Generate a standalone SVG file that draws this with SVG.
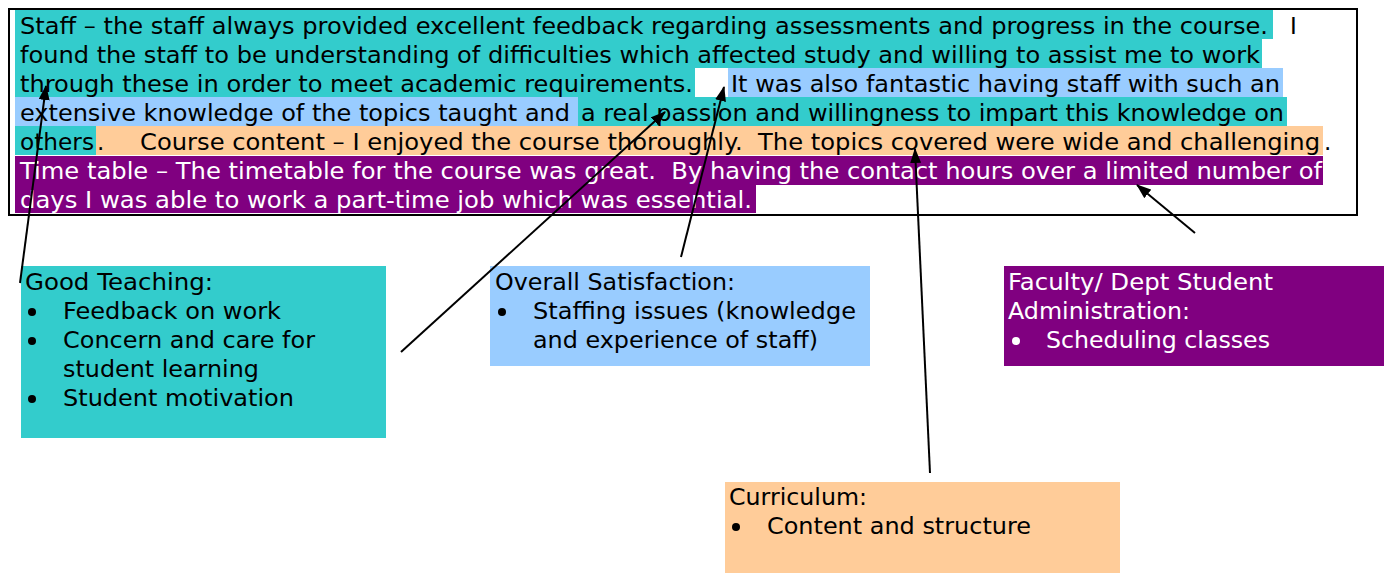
<svg xmlns="http://www.w3.org/2000/svg" width="1392" height="574" viewBox="0 0 1392 574">
  <style>
    text { font-family: "DejaVu Sans", Verdana, sans-serif; font-size: 23px; fill: #000; white-space: pre; }
    .w { fill: #fff; }
    .cy { fill: #33cccc; }
    .bl { fill: #99ccff; }
    .or { fill: #ffcc99; }
    .pu { fill: #800080; }
    .conn line { stroke: #000; stroke-width: 2; marker-end: url(#arrow); }
  </style>
  <defs>
    <marker id="arrow" viewBox="0 0 15 11" refX="14" refY="5.5" markerWidth="15" markerHeight="11" markerUnits="userSpaceOnUse" orient="auto">
      <path d="M0,0 L15,5.5 L0,11 z" fill="#000"/>
    </marker>
  </defs>
  <rect width="1392" height="574" fill="#fff"/>

  <!-- Feedback paragraph with coloured highlights -->
  <g id="paragraph">
    <rect class="cy" x="15" y="10" width="1258" height="29"/>
    <rect class="cy" x="15" y="39" width="1247" height="29"/>
    <rect class="cy" x="15" y="68" width="680" height="29"/>
    <rect class="bl" x="728" y="68" width="555" height="29"/>
    <rect class="bl" x="15" y="97" width="563" height="29"/>
    <rect class="cy" x="578" y="97" width="709" height="29"/>
    <rect class="cy" x="15" y="126" width="81" height="29"/>
    <rect class="or" x="96" y="126" width="1227" height="29"/>
    <rect class="pu" x="15" y="156" width="1308" height="29"/>
    <rect class="pu" x="15" y="185" width="741" height="28"/>
    <rect x="9" y="9" width="1348" height="206" fill="none" stroke="#000" stroke-width="2"/>

    <text x="20" y="34" textLength="1248" lengthAdjust="spacingAndGlyphs">Staff – the staff always provided excellent feedback regarding assessments and progress in the course.</text>
    <text x="1290" y="34">I</text>
    <text x="20" y="63" textLength="1240" lengthAdjust="spacingAndGlyphs">found the staff to be understanding of difficulties which affected study and willing to assist me to work</text>
    <text x="20" y="92" textLength="673" lengthAdjust="spacingAndGlyphs">through these in order to meet academic requirements.</text>
    <text x="731" y="92" textLength="549" lengthAdjust="spacingAndGlyphs">It was also fantastic having staff with such an</text>
    <text x="20" y="121" textLength="550" lengthAdjust="spacingAndGlyphs">extensive knowledge of the topics taught and</text>
    <text x="581" y="121" textLength="703" lengthAdjust="spacingAndGlyphs">a real passion and willingness to impart this knowledge on</text>
    <text x="20" y="150" textLength="74" lengthAdjust="spacingAndGlyphs">others</text>
    <text x="97" y="150">.</text>
    <text x="140" y="150" textLength="1180" lengthAdjust="spacingAndGlyphs">Course content – I enjoyed the course thoroughly.  The topics covered were wide and challenging</text>
    <text x="1324" y="150">.</text>
    <text class="w" x="20" y="179" textLength="1302" lengthAdjust="spacingAndGlyphs">Time table – The timetable for the course was great.  By having the contact hours over a limited number of</text>
    <text class="w" x="20" y="208" textLength="732" lengthAdjust="spacingAndGlyphs">days I was able to work a part-time job which was essential.</text>
  </g>

  <!-- Category boxes -->
  <g id="good-teaching">
    <rect class="cy" x="21" y="266" width="365" height="172"/>
    <text x="25" y="290" textLength="188" lengthAdjust="spacingAndGlyphs">Good Teaching:</text>
    <circle cx="32" cy="312" r="4"/>
    <text x="63" y="319" textLength="218" lengthAdjust="spacingAndGlyphs">Feedback on work</text>
    <circle cx="32" cy="341" r="4"/>
    <text x="63" y="348" textLength="252" lengthAdjust="spacingAndGlyphs">Concern and care for</text>
    <text x="63" y="377" textLength="196" lengthAdjust="spacingAndGlyphs">student learning</text>
    <circle cx="32" cy="399" r="4"/>
    <text x="63" y="406" textLength="231" lengthAdjust="spacingAndGlyphs">Student motivation</text>
  </g>

  <g id="overall-satisfaction">
    <rect class="bl" x="490" y="266" width="380" height="100"/>
    <text x="495" y="290" textLength="240" lengthAdjust="spacingAndGlyphs">Overall Satisfaction:</text>
    <circle cx="502" cy="312" r="4"/>
    <text x="533" y="319" textLength="323" lengthAdjust="spacingAndGlyphs">Staffing issues (knowledge</text>
    <text x="533" y="348" textLength="285" lengthAdjust="spacingAndGlyphs">and experience of staff)</text>
  </g>

  <g id="faculty-admin">
    <rect class="pu" x="1004" y="266" width="380" height="100"/>
    <text class="w" x="1008" y="290" textLength="265" lengthAdjust="spacingAndGlyphs">Faculty/ Dept Student</text>
    <text class="w" x="1008" y="319" textLength="182" lengthAdjust="spacingAndGlyphs">Administration:</text>
    <circle cx="1016" cy="341" r="4" fill="#fff"/>
    <text class="w" x="1046" y="348" textLength="224" lengthAdjust="spacingAndGlyphs">Scheduling classes</text>
  </g>

  <g id="curriculum">
    <rect class="or" x="725" y="482" width="395" height="91"/>
    <text x="729" y="505" textLength="138" lengthAdjust="spacingAndGlyphs">Curriculum:</text>
    <circle cx="736" cy="527" r="4"/>
    <text x="767" y="534" textLength="264" lengthAdjust="spacingAndGlyphs">Content and structure</text>
  </g>

  <!-- Connectors from categories to the quoted passages -->
  <g id="connectors" class="conn">
    <line x1="20" y1="283" x2="46" y2="86"/>
    <line x1="401" y1="352" x2="665" y2="112"/>
    <line x1="681" y1="257" x2="724" y2="87"/>
    <line x1="930" y1="473" x2="915" y2="149"/>
    <line x1="1195" y1="233" x2="1137" y2="185"/>
  </g>
</svg>
